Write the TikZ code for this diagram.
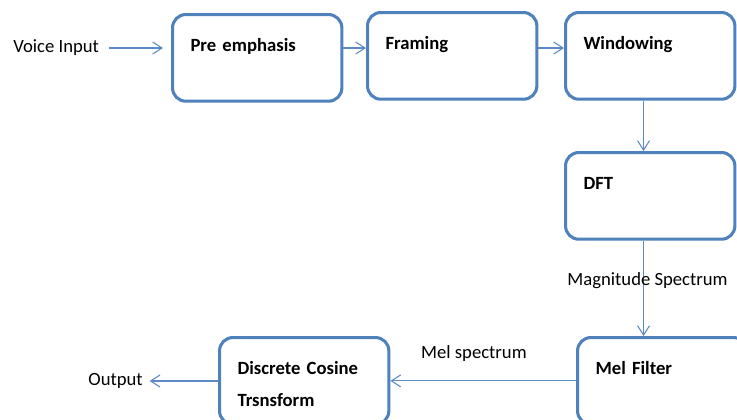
\documentclass[tikz,border=0pt]{standalone}
\usepackage{fontspec}
\setmainfont{Carlito}
\usepackage{xcolor}
\usepackage{tikz}
\usetikzlibrary{arrows.meta}
\definecolor{boxblue}{HTML}{4F81BD}
\definecolor{flowblue}{HTML}{5B8AC6}

\begin{document}
\begin{tikzpicture}[x=0.75pt, y=-0.75pt,
    stage/.style={draw=boxblue, line width=2.3pt, rounded corners=10pt,
      anchor=north west, inner xsep=13.5pt, inner ysep=0pt,
      text width=100pt, align=left, text height=27.5pt, text depth=37.5pt,
      font=\fontsize{14}{24}\selectfont\bfseries},
    plain/.style={inner sep=0pt, font=\fontsize{14}{17}\selectfont},
    flow/.style={draw=flowblue, line width=0.8pt,
      -{Straight Barb[length=7pt, width=9pt]}}]
    \useasboundingbox (0,0) rectangle (737,419);

    \node[stage] (pre)  at (171,13)  {Pre emphasis};
    \node[stage] (fram) at (366,11)  {Framing};
    \node[stage] (win)  at (564,11)  {Windowing};
    \node[stage] (dft)  at (564,151) {DFT};
    \node[stage] (mel)  at (576,336) {Mel Filter};
    \node[stage] (dct)  at (218,336) {Discrete Cosine\\Trsnsform};

    \node[plain, anchor=west] (vin) at (13,48)  {Voice Input};
    \node[plain, anchor=east] (out) at (143,381) {Output};

    \draw[flow, shorten <=7pt, shorten >=6pt] (vin.east) -- (vin.east -| pre.west);
    \draw[flow] (pre.mid east) -- (pre.mid east -| fram.west);
    \draw[flow] (fram.east |- pre.mid east) -- (win.west |- pre.mid east);
    \draw[flow] ([xshift=-5pt]win.south) -- ([xshift=-5pt]dft.north);
    \draw[flow] ([xshift=-5pt]dft.south) -- ([xshift=-5pt]dft.south |- mel.north)
      node[plain, pos=0.42, xshift=3pt] (mag) {Magnitude Spectrum};
    \draw[flow] (mel.west) -- (mel.west -| dct.east)
      node[plain, pos=0.55, above=14.5pt] (melsp) {Mel spectrum};
    \draw[flow, shorten >=5pt] (out.east -| dct.west) -- (out.east);
  \end{tikzpicture}
\end{document}
